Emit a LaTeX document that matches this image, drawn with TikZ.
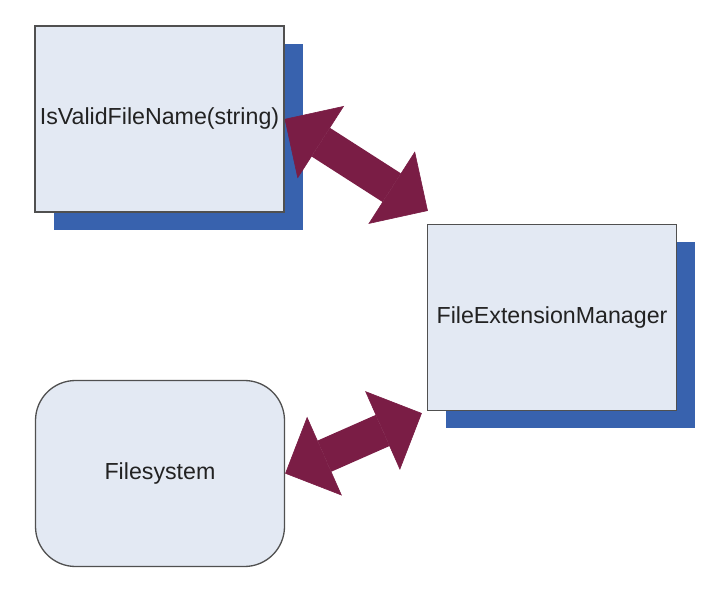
\documentclass[tikz,border=0pt]{standalone}
\usepackage{fontspec}
\setmainfont{Liberation Sans}
\usetikzlibrary{arrows.meta,calc}
\definecolor{boxfill}{RGB}{227,233,243}
\definecolor{boxline}{RGB}{80,80,80}
\definecolor{shadowblue}{RGB}{56,98,174}
\definecolor{wine}{RGB}{122,29,69}
\definecolor{txt}{RGB}{34,34,34}
\tikzset{
  box/.style={draw=boxline, line width=1.3pt, fill=boxfill, minimum width=249pt, minimum height=186pt, inner sep=0pt, font=\fontsize{23.2}{27}\selectfont, text=txt},
  shadowbox/.style={fill=shadowblue, draw=none, minimum width=249pt, minimum height=186pt, inner sep=0pt},
  fathead/.tip={Triangle[length=43pt, width=86pt, line width=0.6pt, fill=wine]},
  fat/.style={draw=wine, line width=34pt, fathead-fathead}
}
\begin{document}
\begin{tikzpicture}[x=1pt,y=1pt]
\useasboundingbox[fill=white] (0,0) rectangle (712,592);
% shadows
\node[shadowbox] (s1) at (178,455) {};
\node[shadowbox] (s2) at (570.5,256.5) {};
% boxes
\node[box] (b1) at (159.5,473) {IsValidFileName(string)};
\node[box] (b2) at (552,274.5) {FileExtensionManager};
\node[box, rounded corners=40pt] (b3) at (160,118.5) {Filesystem};
% connector end points
\coordinate (e1) at ($(b2.north west)+(1,13)$);
\coordinate (e2) at ($(b2.south west)+(-5,-2)$);
% connectors
\draw[fat] (b1.east) -- (e1);
\draw[fat] (b3.east) -- (e2);
\end{tikzpicture}
\end{document}
